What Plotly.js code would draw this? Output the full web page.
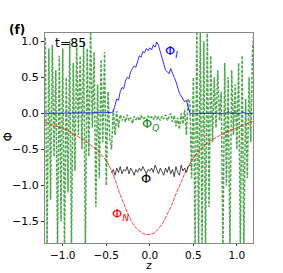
<!DOCTYPE html>
<html><head><meta charset="utf-8">
<script src="https://cdn.plot.ly/plotly-3.0.1.min.js"></script>
<style>html,body{margin:0;padding:0;background:#fff}#plot{width:283px;height:273px}</style>
</head><body><div id="plot"></div>
<script>
// Φ_Q (green, dashed) — sampled every 0.02 in z
const zQ = [-1.20,-1.18,-1.16,-1.14,-1.12,-1.10,-1.08,-1.06,-1.04,-1.02,-1.00,-0.98,-0.96,-0.94,-0.92,-0.90,-0.88,-0.86,-0.84,-0.82,-0.80,-0.78,-0.76,-0.74,-0.72,-0.70,-0.68,-0.66,-0.64,-0.62,-0.60,-0.58,-0.56,-0.54,-0.52,-0.50,-0.48,-0.46,
  -0.44,-0.42,-0.40,-0.38,-0.36,-0.34,-0.32,-0.30,-0.28,-0.26,-0.24,-0.22,-0.20,-0.18,-0.16,-0.14,-0.12,-0.10,-0.08,-0.06,-0.04,-0.02,0.00,0.02,0.04,0.06,0.08,0.10,0.12,0.14,0.16,0.18,0.20,0.22,0.24,0.26,0.28,0.30,0.32,0.34,0.36,0.38,0.40,0.42,0.44,
  0.46,0.48,0.50,0.52,0.54,0.56,0.58,0.60,0.62,0.64,0.66,0.68,0.70,0.72,0.74,0.76,0.78,0.80,0.82,0.84,0.86,0.88,0.90,0.92,0.94,0.96,0.98,1.00,1.02,1.04,1.06,1.08,1.10,1.12,1.14,1.16,1.18,1.20];
const phiQ = [1.05,-1.9,0.9,-1.2,0.95,-0.6,0.6,-1.9,0.8,-1.5,0.9,-1.9,0.5,-1.1,1.0,-1.9,0.7,-0.8,0.95,-0.3,0.8,-0.5,1.0,-1.9,0.9,-0.6,1.2,-0.2,0.85,-1.3,0.4,-0.9,0.75,-0.4,0.85,-1.0,0.3,-0.35,
  -0.5,0.05,-0.3,0.03,-0.2,-0.02,-0.1,-0.04,-0.12,-0.02,-0.1,-0.06,-0.14,-0.04,-0.09,-0.05,-0.1,-0.03,-0.08,-0.06,-0.1,-0.04,-0.07,-0.05,-0.09,-0.03,-0.08,-0.05,-0.1,-0.04,-0.08,-0.02,-0.1,-0.05,0.0,-0.12,-0.03,-0.18,-0.06,-0.22,0.0,-0.15,0.05,-0.3,0.2,
  0.15,-0.9,0.5,-1.9,1.2,-1.9,1.2,-1.9,1.0,-1.9,1.2,-1.3,0.8,-0.4,0.5,-0.2,0.6,-0.1,0.3,-1.9,0.7,-1.0,0.5,-1.9,0.6,-0.3,0.4,-0.5,0.7,-1.9,0.8,-1.9,0.2,-0.9,0.5,-0.4,0.9,1.2];

// Φ_I (blue)
const zI = [-1.204,-1.0,-0.8,-0.6,-0.5,-0.44,-0.42,-0.40,-0.38,-0.36,-0.34,-0.32,-0.30,-0.28,-0.26,-0.24,-0.22,-0.20,-0.18,-0.16,-0.14,-0.12,-0.10,-0.08,-0.06,-0.04,-0.02,0.0,0.02,0.04,0.06,0.08,0.10,0.12,0.14,0.16,0.18,0.20,0.22,0.24,0.26,0.28,0.30,0.32,0.34,0.36,0.38,0.40,0.42,0.44,0.46,0.5,0.6,0.8,0.88,0.90,0.92,0.95,1.0,1.05,1.07,1.1,1.185];
const phiI = [0,0,0,0,0,0.01,0.02,0.1,0.2,0.18,0.3,0.36,0.34,0.45,0.5,0.48,0.58,0.62,0.66,0.64,0.74,0.8,0.78,0.86,0.84,0.9,0.87,0.91,0.88,0.95,0.92,0.99,0.94,0.86,0.76,0.7,0.6,0.58,0.55,0.62,0.57,0.5,0.44,0.36,0.28,0.24,0.2,0.16,0.18,0.08,0,0,0,0,0,0.03,0,0,0,0,0.02,0,0];

// Φ (black)
const zP = [-0.44,-0.42,-0.40,-0.38,-0.36,-0.34,-0.32,-0.30,-0.28,-0.26,-0.24,-0.22,-0.20,-0.18,-0.16,-0.14,-0.12,-0.10,-0.08,-0.06,-0.04,-0.02,0.00,0.02,0.04,0.06,0.08,0.10,0.12,0.14,0.16,0.18,0.20,0.22,0.24,0.26,0.28,0.30,0.32,0.34,0.36,0.38,0.40,0.42,0.44,0.46,0.48];
const phi = [-0.82,-0.78,-0.86,-0.76,-0.82,-0.74,-0.84,-0.78,-0.8,-0.74,-0.84,-0.76,-0.8,-0.86,-0.78,-0.82,-0.76,-0.8,-0.74,-0.8,-0.84,-0.78,-0.8,-0.76,-0.82,-0.72,-0.78,-0.84,-0.76,-0.8,-0.86,-0.76,-0.82,-0.74,-0.84,-0.78,-0.88,-0.74,-0.82,-0.86,-0.72,-0.8,-0.76,-0.82,-0.74,-0.72,-0.74];

// Φ_N (red)
const zN = [-1.204,-1.1,-1.0,-0.9,-0.8,-0.7,-0.6,-0.5,-0.45,-0.4,-0.35,-0.3,-0.25,-0.2,-0.15,-0.1,-0.05,0,0.05,0.1,0.15,0.2,0.25,0.3,0.35,0.4,0.45,0.5,0.6,0.7,0.8,0.9,1.0,1.1,1.185];
const phiN = [-0.12,-0.17,-0.21,-0.27,-0.34,-0.42,-0.52,-0.66,-0.77,-0.92,-1.1,-1.25,-1.4,-1.52,-1.6,-1.65,-1.68,-1.68,-1.66,-1.6,-1.52,-1.4,-1.28,-1.12,-0.98,-0.84,-0.72,-0.62,-0.47,-0.38,-0.31,-0.25,-0.2,-0.15,-0.11];

const F = 'DejaVu Sans, sans-serif';
const traces = [
  {x: zQ, y: phiQ, mode: 'lines', line: {color: 'rgba(0,128,0,0.7)', width: 1.5, dash: '3px,1.5px'}, hoverinfo: 'skip'},
  {x: zN, y: phiN, mode: 'lines', line: {color: 'rgba(255,0,0,0.75)', width: 1, dash: '4px,1px', shape: 'spline'}, hoverinfo: 'skip'},
  {x: zI, y: phiI, mode: 'lines', line: {color: 'rgba(0,0,255,0.8)', width: 1}, hoverinfo: 'skip'},
  {x: zP, y: phi, mode: 'lines', line: {color: 'rgba(0,0,0,0.7)', width: 1}, hoverinfo: 'skip'}
];
const ax = {
  showgrid: false, zeroline: false, showline: true, mirror: true, linecolor: '#888', linewidth: 1,
  ticks: 'outside', ticklen: 3, tickwidth: 0.8, tickcolor: '#000',
  tickfont: {family: F, size: 11, color: '#000'}
};
const layout = {
  width: 283, height: 273, margin: {l: 45, r: 30, t: 33, b: 30},
  paper_bgcolor: '#fff', plot_bgcolor: '#fff', showlegend: false,
  xaxis: Object.assign({}, ax, {range: [-1.204, 1.185], ticklen: 2, tickfont: {family: F, size: 10.5, color: '#000'}, tickvals: [-1, -0.5, 0, 0.5, 1], ticktext: ['−1.0','−0.5','0.0','0.5','1.0']}),
  yaxis: Object.assign({}, ax, {range: [-1.8, 1.115], tickvals: [-1.5, -1, -0.5, 0, 0.5, 1], ticktext: ['−1.5','−1.0','−0.5','0.0','0.5','1.0']}),
  annotations: [
    {text: 'z', xref: 'paper', yref: 'paper', x: 0.5, y: -0.108, xanchor: 'center', yanchor: 'middle', borderpad: 0, showarrow: false, font: {family: F, size: 11, color: '#000'}},
    {text: 'Φ', xref: 'paper', yref: 'paper', x: -0.18, y: 0.505, xanchor: 'center', yanchor: 'middle', textangle: -90, showarrow: false, font: {family: F, size: 12, color: '#000'}},
    {text: '<b>(f)</b>', xref: 'paper', yref: 'paper', x: -0.185, y: 1.015, xanchor: 'left', yanchor: 'middle', showarrow: false, font: {family: F, size: 12, color: '#000'}},
    {text: 't=85', x: -1.11, y: 0.98, xanchor: 'left', yanchor: 'middle', showarrow: false, font: {family: F, size: 12.5, color: '#000'}},
    {text: 'Φ<sub><i>I</i></sub>', x: 0.15, y: 0.86, xanchor: 'left', yanchor: 'middle', showarrow: false, font: {family: F, size: 13, color: '#0000ff'}},
    {text: 'Φ<sub><i>Q</i></sub>', x: -0.115, y: -0.16, xanchor: 'left', yanchor: 'middle', showarrow: false, font: {family: F, size: 13, color: '#1a8a1a'}},
    {text: 'Φ', x: -0.04, y: -0.91, xanchor: 'center', yanchor: 'middle', showarrow: false, font: {family: F, size: 13, color: '#000'}},
    {text: 'Φ<sub><i>N</i></sub>', x: -0.46, y: -1.4, xanchor: 'left', yanchor: 'middle', showarrow: false, font: {family: F, size: 13, color: '#ff0000'}}
  ]
};
Plotly.newPlot('plot', traces, layout, {staticPlot: true, displayModeBar: false});
</script></body></html>
